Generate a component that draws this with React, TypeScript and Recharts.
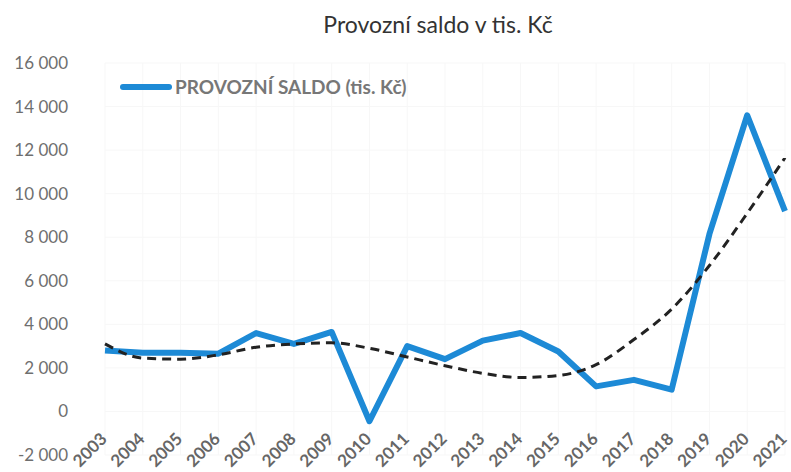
import { LineChart, Line, XAxis, YAxis, CartesianGrid } from "recharts"

const years = [
  "2003", "2004", "2005", "2006", "2007", "2008", "2009", "2010", "2011", "2012",
  "2013", "2014", "2015", "2016", "2017", "2018", "2019", "2020", "2021",
]
const saldo = [
  2800, 2700, 2700, 2650, 3600, 3100, 3650, -450, 3000, 2400,
  3250, 3600, 2750, 1150, 1450, 1000, 8150, 13600, 9200,
]
const trend = [
  3100, 2450, 2400, 2600, 2950, 3100, 3150, 2900, 2500, 2100,
  1750, 1560, 1650, 2150, 3300, 4700, 6700, 9100, 11650,
]
const yTicks = [-2000, 0, 2000, 4000, 6000, 8000, 10000, 12000, 14000, 16000]

const data = years.map((year, i) => ({ year, saldo: saldo[i], trend: trend[i] }))

const formatNum = (v: number) => {
  const s = Math.abs(v).toString().replace(/\B(?=(\d{3})+(?!\d))/g, " ")
  return v < 0 ? `-${s}` : s
}

// rok pod osou, otočený o 45°, posunutý nahoru k nule jako v Excelu
const YearTick = (props: any) => {
  const { x, y, payload } = props
  const ax = x + 3
  const ay = y - 15
  return (
    <text
      x={ax}
      y={ay}
      transform={`rotate(-45 ${ax} ${ay})`}
      textAnchor="end"
      fontFamily="Lato"
      fontWeight="bold"
      fontSize={17}
      fill="#666"
    >
      {payload.value}
    </text>
  )
}

export default function App() {
  return (
    <div style={{ position: "absolute", left: 0, top: 0, width: 791, height: 472, background: "#fff" }}>
      <div
        style={{
          position: "absolute",
          top: 10,
          left: 0,
          width: 876,
          textAlign: "center",
          fontFamily: "Lato",
          fontSize: 23,
          color: "#333",
        }}
      >
        Provozní saldo v tis. Kč
      </div>
      <div style={{ position: "absolute", top: 75, left: 120, display: "flex", alignItems: "center", zIndex: 2 }}>
        <div style={{ width: 52, height: 6, background: "#1d8ad6", borderRadius: 3, marginRight: 3 }} />
        <span style={{ fontFamily: "Lato", fontWeight: "bold", fontSize: 19, color: "#777" }}>
          PROVOZNÍ SALDO (tis. Kč)
        </span>
      </div>
      <LineChart width={791} height={472} data={data} margin={{ top: 63, right: 6, bottom: 0, left: 0 }}>
        <CartesianGrid stroke="#f7f7f7" />
        <XAxis
          dataKey="year"
          scale="point"
          height={17}
          axisLine={false}
          tickLine={false}
          tickSize={0}
          tickMargin={0}
          interval={0}
          tick={<YearTick />}
        />
        <YAxis
          domain={[-2000, 16000]}
          ticks={yTicks}
          width={105}
          axisLine={false}
          tickLine={false}
          tickSize={0}
          tickMargin={37}
          tickFormatter={formatNum}
          tick={{ fontFamily: "Lato", fontSize: 17, fill: "#6f6f6f" }}
          interval={0}
        />
        <Line
          dataKey="saldo"
          stroke="#1d8ad6"
          strokeWidth={6}
          dot={false}
          isAnimationActive={false}
          strokeLinejoin="round"
        />
        <Line
          dataKey="trend"
          type="monotone"
          stroke="#222"
          strokeWidth={3}
          strokeDasharray="9 6"
          dot={false}
          isAnimationActive={false}
        />
      </LineChart>
    </div>
  )
}
